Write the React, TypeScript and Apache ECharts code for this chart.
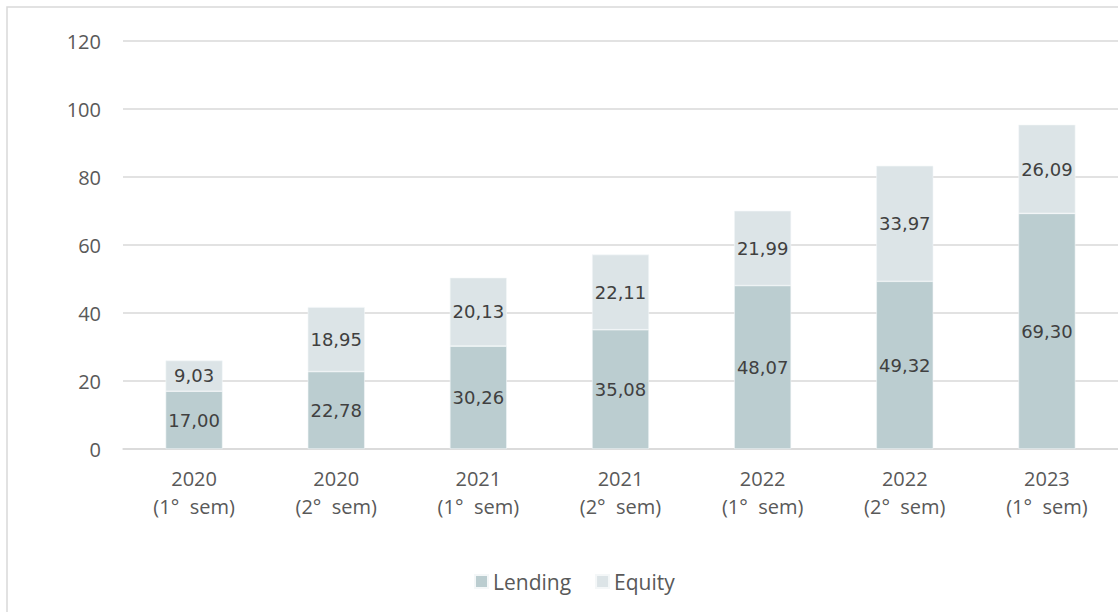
import React, { useEffect, useRef } from "react";
import * as echarts from "echarts";

const categories = [
  "2020\n(1°  sem)",
  "2020\n(2°  sem)",
  "2021\n(1°  sem)",
  "2021\n(2°  sem)",
  "2022\n(1°  sem)",
  "2022\n(2°  sem)",
  "2023\n(1°  sem)",
];
const lending = [17.0, 22.78, 30.26, 35.08, 48.07, 49.32, 69.3];
const equity = [9.03, 18.95, 20.13, 22.11, 21.99, 33.97, 26.09];
const yTicks = { min: 0, max: 120, interval: 20 };

const fmt = (v: number) => v.toFixed(2).replace(".", ",");

export default function App() {
  const ref = useRef<HTMLDivElement>(null);
  useEffect(() => {
    if (!ref.current) return;
    const chart = echarts.init(ref.current, null, { renderer: "svg" });
    const labelStyle = {
      show: true,
      position: "inside" as const,
      color: "#404040",
      fontFamily: "DejaVu Sans",
      fontSize: 18,
      formatter: (p: any) => fmt(p.value),
    };
    chart.setOption({
      animation: false,
      backgroundColor: "#ffffff",
      graphic: [
        {
          type: "rect",
          shape: { x: 7, y: 7, width: 1130, height: 620 },
          style: { fill: "none", stroke: "#d9d9d9", lineWidth: 1.5 },
          silent: true,
        },
      ],
      grid: { left: 123, right: -5, top: 41, bottom: 163, containLabel: false },
      legend: {
        left: 469,
        top: 566,
        itemWidth: 13,
        itemHeight: 13,
        itemGap: 24,
        icon: "rect",
        textStyle: { color: "#595959", fontSize: 21, fontFamily: "Open Sans" },
        data: ["Lending", "Equity"],
      },
      xAxis: {
        type: "category",
        data: categories,
        axisLine: { lineStyle: { color: "#d9d9d9", width: 1.5 } },
        axisTick: { show: false },
        axisLabel: {
          color: "#595959",
          fontSize: 20,
          fontFamily: "Open Sans",
          lineHeight: 28,
          margin: 15,
        },
      },
      yAxis: {
        type: "value",
        min: yTicks.min,
        max: yTicks.max,
        interval: yTicks.interval,
        axisLine: { show: false },
        axisTick: { show: false },
        splitLine: { lineStyle: { color: "#d9d9d9", width: 1.5 } },
        axisLabel: {
          color: "#595959",
          fontSize: 20,
          fontFamily: "Open Sans",
          margin: 22,
        },
      },
      series: [
        {
          name: "Lending",
          type: "bar",
          stack: "total",
          data: lending,
          barWidth: 57,
          itemStyle: { color: "#bbcdd0", borderColor: "#f4f7f8", borderWidth: 0.6 },
          label: labelStyle,
        },
        {
          name: "Equity",
          type: "bar",
          stack: "total",
          data: equity,
          barWidth: 57,
          itemStyle: { color: "#dce4e7", borderColor: "#f4f7f8", borderWidth: 0.6 },
          label: labelStyle,
        },
      ],
    });
    return () => chart.dispose();
  }, []);
  return (
    <div
      ref={ref}
      style={{ position: "fixed", left: 0, top: 0, width: 1118, height: 612 }}
    />
  );
}
